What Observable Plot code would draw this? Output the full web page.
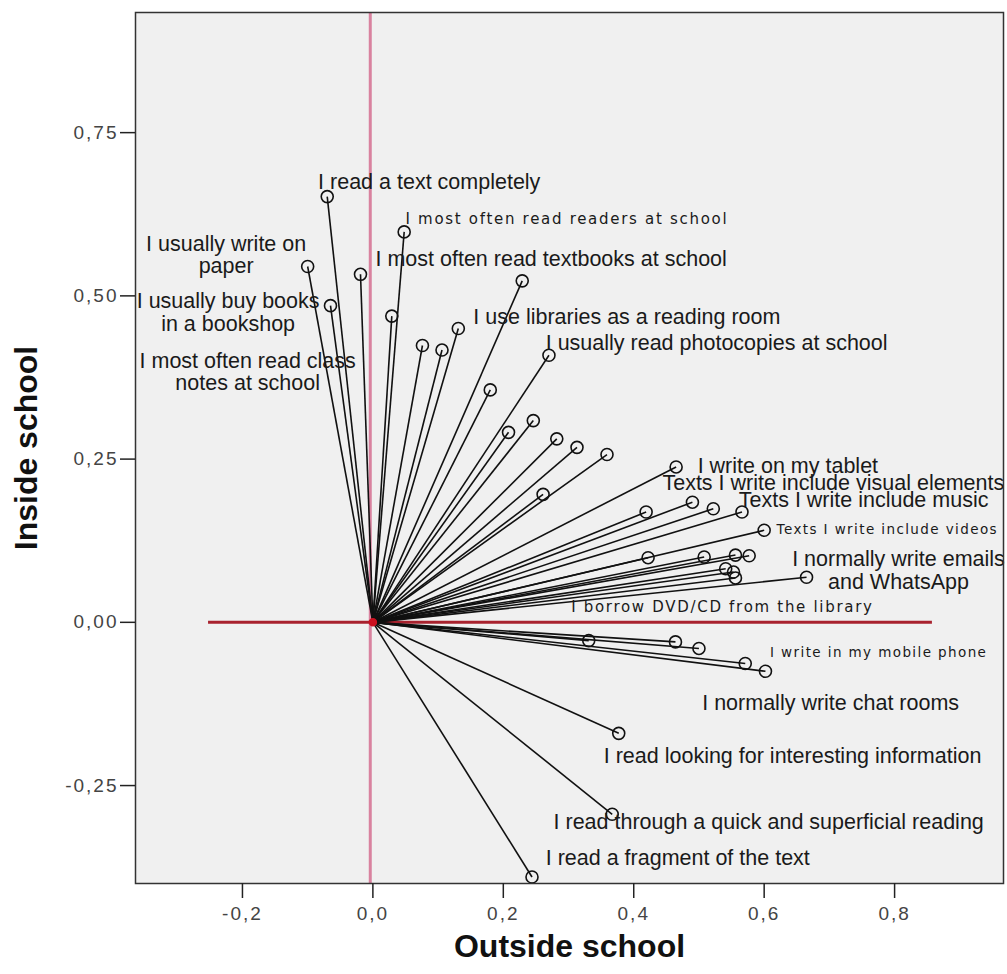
<!DOCTYPE html>
<html>
<head>
<meta charset="utf-8">
<script src="https://cdn.jsdelivr.net/npm/d3@7"></script>
<script src="https://cdn.jsdelivr.net/npm/@observablehq/plot@0.6"></script>
<style>
  html, body { margin: 0; padding: 0; background: #fff; overflow: hidden; }
  #chart svg { display: block; }
</style>
</head>
<body>
<div id="chart"></div>
<script>
// Item coordinates (dimension 1 = Outside school, dimension 2 = Inside school)
const outsideSchool = [-0.070, -0.100, -0.019, -0.065, 0.048, 0.029, 0.076, 0.106, 0.131, 0.229,
  0.270, 0.180, 0.208, 0.246, 0.282, 0.313, 0.359, 0.261, 0.465, 0.419,
  0.490, 0.522, 0.566, 0.600, 0.422, 0.508, 0.556, 0.577, 0.541, 0.553,
  0.556, 0.665, 0.331, 0.464, 0.500, 0.571, 0.602, 0.377, 0.367, 0.244];
const insideSchool = [0.652, 0.545, 0.533, 0.485, 0.598, 0.469, 0.424, 0.417, 0.450, 0.523,
  0.409, 0.356, 0.291, 0.309, 0.281, 0.268, 0.257, 0.196, 0.238, 0.169,
  0.184, 0.174, 0.169, 0.141, 0.099, 0.100, 0.103, 0.102, 0.082, 0.077,
  0.068, 0.069, -0.028, -0.030, -0.040, -0.063, -0.075, -0.170, -0.294, -0.390];

// Labels (left-anchored)
const labelText = ["I read a text completely", "I most often read textbooks at school",
  "I use libraries as a reading room", "I usually read photocopies at school",
  "I write on my tablet", "Texts I write include visual elements", "Texts I write include music",
  "I normally write chat rooms", "I read looking for interesting information",
  "I read through a quick and superficial reading", "I read a fragment of the text"];
const labelX = [-0.084, 0.004, 0.154, 0.265, 0.498, 0.444, 0.561, 0.505, 0.354, 0.277, 0.265];
const labelY = [0.674, 0.557, 0.467, 0.427, 0.240, 0.213, 0.187, -0.123, -0.205, -0.306, -0.361];

// Labels in the spaced font (left-anchored)
const spacedText = ["I most often read readers at school", "I borrow DVD/CD from the library"];
const spacedX = [0.050, 0.304];
const spacedY = [0.617, 0.023];
const spacedSmallText = ["Texts I write include videos", "I write in my mobile phone"];
const spacedSmallX = [0.619, 0.609];
const spacedSmallY = [0.142, -0.047];

// Two-line labels (centered)
const centerText = ["I usually write on\npaper", "I usually buy books\nin a bookshop",
  "I most often read class\nnotes at school", "I normally write emails\nand WhatsApp"];
const centerX = [-0.225, -0.222, -0.192, 0.806];
const centerY = [0.563, 0.475, 0.384, 0.080];

const xTicks = [-0.2, 0.0, 0.2, 0.4, 0.6, 0.8];
const yTicks = [-0.25, 0.0, 0.25, 0.5, 0.75];
const xDomain = [-0.364, 0.967];
const yDomain = [-0.40, 0.934];
const horizRefX = [-0.252, 0.858];
const vertRefX = [-0.004];

const points = outsideSchool.map((x, i) => ({x, y: insideSchool[i]}));
const labels = labelText.map((t, i) => ({t, x: labelX[i], y: labelY[i]}));
const spaced = spacedText.map((t, i) => ({t, x: spacedX[i], y: spacedY[i]}));
const spacedSmall = spacedSmallText.map((t, i) => ({t, x: spacedSmallX[i], y: spacedSmallY[i]}));
const centered = centerText.map((t, i) => ({t, x: centerX[i], y: centerY[i]}));

const comma = d => d3.format(".1f")(d).replace(".", ",").replace("−", "-");
const comma2 = d => d3.format(".2f")(d).replace(".", ",").replace("−", "-");

const chart = Plot.plot({
  width: 1007,
  height: 974,
  marginLeft: 135,
  marginRight: 4,
  marginTop: 12,
  marginBottom: 91,
  style: {fontFamily: "Liberation Sans, Arial, sans-serif", background: "#fff"},
  x: {domain: xDomain},
  y: {domain: yDomain},
  marks: [
    Plot.frame({fill: "#f0f0f0"}),
    Plot.ruleX(vertRefX, {stroke: "#d9829f", strokeWidth: 3}),
    Plot.ruleY([0], {x1: horizRefX[0], x2: horizRefX[1], stroke: "#a8222e", strokeWidth: 3}),
    Plot.link(points, {x1: 0, y1: 0, x2: "x", y2: "y", stroke: "#111", strokeWidth: 1.6}),
    Plot.dot(points, {x: "x", y: "y", r: 6, stroke: "#111", strokeWidth: 1.6, fill: "none"}),
    Plot.dot([0], {x: 0, y: 0, r: 3.5, fill: "#cc1020", stroke: "#cc1020"}),
    Plot.text(labels, {x: "x", y: "y", text: "t", textAnchor: "start", fontSize: 21.5, fill: "#1a1a1a"}),
    Plot.text(spaced, {x: "x", y: "y", text: "t", textAnchor: "start", fontSize: 15, fill: "#1a1a1a",
      fontFamily: "DejaVu Sans", className: "spaced"}),
    Plot.text(spacedSmall, {x: "x", y: "y", text: "t", textAnchor: "start", fontSize: 13.5, fill: "#1a1a1a",
      fontFamily: "DejaVu Sans", className: "spacedsmall"}),
    Plot.text(centered, {x: "x", y: "y", text: "t", textAnchor: "middle", fontSize: 21.5, fill: "#1a1a1a",
      lineHeight: 1.05}),
    Plot.frame({stroke: "#333", strokeWidth: 1.5}),
    Plot.axisX({ticks: xTicks, tickFormat: () => "", tickSize: 15,
      stroke: "#222", strokeWidth: 1.5, label: null}),
    Plot.axisY({ticks: yTicks, tickFormat: () => "", tickSize: 15,
      stroke: "#222", strokeWidth: 1.5, label: null}),
    Plot.text(xTicks, {x: d => d, text: comma, frameAnchor: "bottom", lineAnchor: "middle", dy: 30,
      fontSize: 19, fill: "#444", className: "ticklab"}),
    Plot.text(yTicks, {y: d => d, text: comma2, frameAnchor: "left", textAnchor: "end", dx: -17,
      fontSize: 19, fill: "#444", className: "ticklab"}),
    Plot.text(["Outside school"], {frameAnchor: "bottom", lineAnchor: "middle", dy: 63, fontSize: 32,
      fontWeight: "bold", fill: "#111"}),
    Plot.text(["Inside school"], {frameAnchor: "left", dx: -109, rotate: -90, textAnchor: "middle",
      fontSize: 32, fontWeight: "bold", fill: "#111"})
  ]
});
document.getElementById("chart").appendChild(chart);
chart.querySelectorAll("g.spaced text").forEach(t => t.setAttribute("letter-spacing", "1.7"));
chart.querySelectorAll("g.spacedsmall text").forEach(t => t.setAttribute("letter-spacing", "1.4"));
chart.querySelectorAll("g.ticklab text").forEach(t => t.setAttribute("letter-spacing", "2"));
</script>
</body>
</html>
